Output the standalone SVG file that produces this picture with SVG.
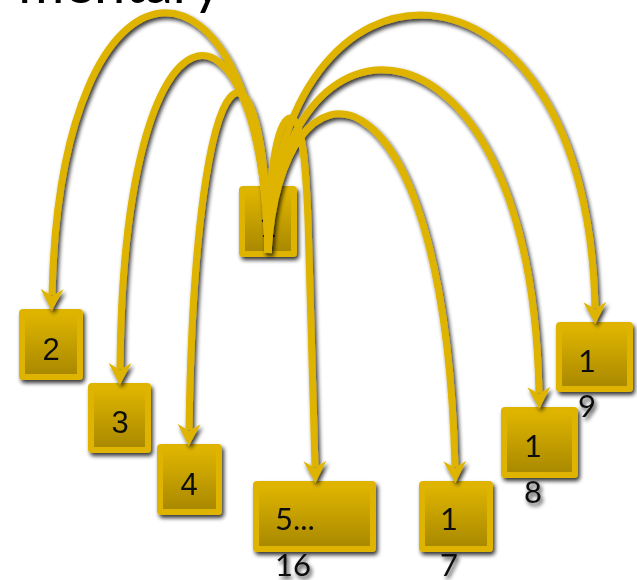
<svg xmlns="http://www.w3.org/2000/svg" width="637" height="580" viewBox="0 0 637 580">
  <defs>
    <style>
      .box { fill: #DEB400; }
      .inner { fill: url(#boxGrad); }
      .num { font-family: "Liberation Sans", Arial, sans-serif; font-size: 31px; fill: #111; }
      .lat { font-family: Lato, "Liberation Sans", sans-serif; font-size: 31px; fill: #111; }
      .edge { fill: none; stroke: #DEB400; stroke-width: 7; stroke-linecap: butt; marker-end: url(#head); }
    </style>
    <linearGradient id="boxGrad" x1="0" y1="0" x2="0" y2="1">
      <stop offset="0" stop-color="#DEB400"/>
      <stop offset="1" stop-color="#A98900"/>
    </linearGradient>
    <filter id="shadow" x="-20%" y="-20%" width="140%" height="140%">
      <feGaussianBlur in="SourceAlpha" stdDeviation="2.2"/>
      <feOffset dx="1.5" dy="3" result="off"/>
      <feComponentTransfer><feFuncA type="linear" slope="0.8"/></feComponentTransfer>
      <feMerge><feMergeNode/><feMergeNode in="SourceGraphic"/></feMerge>
    </filter>
    <marker id="head" markerUnits="userSpaceOnUse" viewBox="0 -12 24 24" markerWidth="24" markerHeight="24" refX="6" refY="0" orient="auto">
      <path d="M0,-11.5 L22,0 L0,11.5 L7,0 Z" fill="#DEB400"/>
    </marker>
  </defs>

  <!-- heading, mostly above the top edge -->
  <text x="222" y="3" text-anchor="end" font-family="Lato, 'Liberation Sans', sans-serif" font-size="56" fill="#000">mentary</text>

  <!-- root node -->
  <g id="n1" filter="url(#shadow)">
    <rect class="box" x="239" y="186" width="58" height="71" rx="4"/>
    <rect class="inner" x="245" y="192" width="46" height="59"/>
    <text class="lat" x="268" y="237" text-anchor="middle">1</text>
  </g>

  <g id="n2" filter="url(#shadow)">
    <rect class="box" x="19" y="309" width="64" height="71" rx="4"/>
    <rect class="inner" x="25" y="315" width="52" height="59"/>
    <text class="num" x="51" y="360" text-anchor="middle">2</text>
  </g>

  <g id="n3" filter="url(#shadow)">
    <rect class="box" x="88" y="383" width="63" height="70" rx="4"/>
    <rect class="inner" x="94" y="389" width="51" height="58"/>
    <text class="num" x="120" y="433" text-anchor="middle">3</text>
  </g>

  <g id="n4" filter="url(#shadow)">
    <rect class="box" x="157" y="444" width="65" height="71" rx="4"/>
    <rect class="inner" x="163" y="450" width="53" height="59"/>
    <text class="num" x="189" y="495" text-anchor="middle">4</text>
  </g>

  <g id="n5" filter="url(#shadow)">
    <rect class="box" x="253" y="481" width="123" height="71" rx="4"/>
    <rect class="inner" x="259" y="487" width="111" height="59"/>
    <text class="lat"><tspan x="275" y="530">5...</tspan><tspan x="275" y="576">16</tspan></text>
  </g>

  <g id="n17" filter="url(#shadow)">
    <rect class="box" x="419" y="481" width="74" height="71" rx="4"/>
    <rect class="inner" x="425" y="487" width="62" height="59"/>
    <text class="lat"><tspan x="440" y="530">1</tspan><tspan x="440" y="576">7</tspan></text>
  </g>

  <g id="n18" filter="url(#shadow)">
    <rect class="box" x="501" y="407" width="77" height="71" rx="4"/>
    <rect class="inner" x="507" y="413" width="65" height="59"/>
    <text class="lat"><tspan x="524" y="457">1</tspan><tspan x="524" y="503">8</tspan></text>
  </g>

  <g id="n19" filter="url(#shadow)">
    <rect class="box" x="556" y="322" width="77" height="70" rx="4"/>
    <rect class="inner" x="562" y="328" width="65" height="58"/>
    <text class="lat"><tspan x="578" y="372">1</tspan><tspan x="578" y="417">9</tspan></text>
  </g>

  <!-- arcs from the root to each child -->
  <g id="connectors" filter="url(#shadow)">
    <path class="edge" d="M268,253 C262,-74 60,-74 52,295"/>
    <path class="edge" d="M268,253 C262,-27 123,-27 120,369"/>
    <path class="edge" d="M268,253 C266,16 195,16 189,430"/>
    <path class="edge" d="M268,253 C268,160 280,116 291,118 C303,120 306,170 308,220 L315,467"/>
    <path class="edge" d="M268,253 C280,41 444,41 455,467"/>
    <path class="edge" d="M268,253 C275,-11 531,-11 539,393"/>
    <path class="edge" d="M268,253 C272,-73 587,-73 595,308"/>
  </g>
</svg>
